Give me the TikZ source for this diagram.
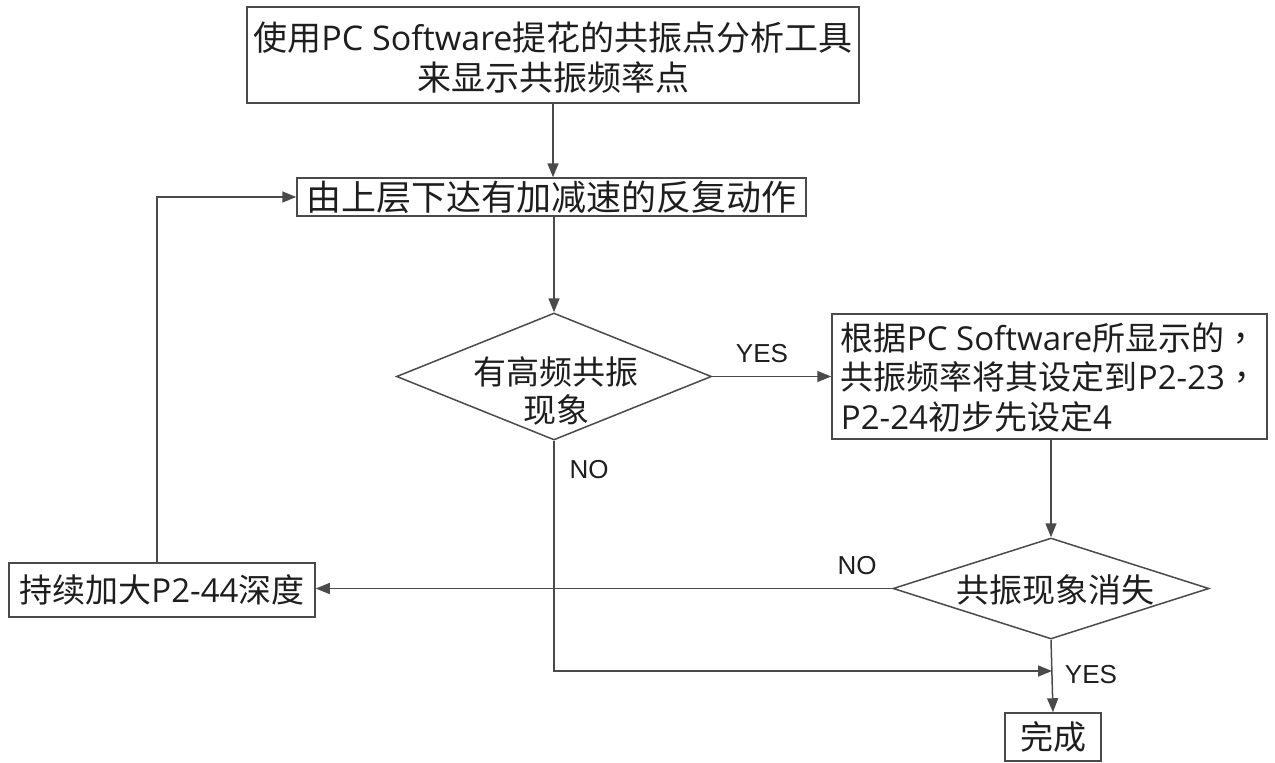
\documentclass[tikz,border=0pt]{standalone}
\usepackage{fontspec}
\setmainfont{Noto Sans CJK SC}
\newfontfamily\latfont{Open Sans}
\newfontfamily\tcfont[Script=CJK,Language=Chinese Traditional]{Noto Sans CJK TC}
\newfontfamily\arialfont{Liberation Sans}
\newcommand\lt[1]{{\latfont #1}}
\newcommand\cm{{\tcfont ，}}
\usetikzlibrary{shapes.geometric,arrows.meta}
\definecolor{ln}{HTML}{4A4A4A}
\definecolor{tx}{HTML}{1E1E1E}
\begin{document}
\begin{tikzpicture}[x=1pt,y=-1pt,
 box/.style={draw=ln,line width=1.5pt,rectangle,inner sep=0pt,text=tx,align=center,font=\fontsize{33}{37.5}\selectfont},
 dia/.style={draw=ln,line width=1.5pt,diamond,inner sep=0pt},
 txt/.style={text=tx,inner sep=0pt,align=center,font=\fontsize{33}{38}\selectfont},
 lbl/.style={text=tx,inner sep=0pt,font=\arialfont\fontsize{26}{28}\selectfont},
 arr/.style={draw=ln,line width=1.5pt,-{Triangle[length=14pt,width=11pt]}}]
\path[use as bounding box] (0,0) rectangle (1275,763);
\fill[white] (0,0) rectangle (1275,763);
\node[box,minimum width=612pt,minimum height=96pt,font=\fontsize{34}{37}\selectfont] (top) at (553,55)
  {\raisebox{-7pt}[\height][\depth]{\begin{tabular}{@{}c@{}}使用\lt{PC Software}提花的共振点分析工具\\来显示共振频率点\end{tabular}}};
\node[box,minimum width=509pt,minimum height=38pt,font=\fontsize{35}{38}\selectfont] (b2) at (551.5,197) {由上层下达有加减速的反复动作};
\node[dia,minimum width=315pt,minimum height=127pt] (d1) at (554,376.5) {};
\node[txt] (d1t) at (556,391) {有高频共振\\现象};
\node[box,minimum width=435pt,minimum height=125pt,font=\fontsize{33}{37.5}\selectfont] (b3) at (1049.5,376.5)
  {\raisebox{-5pt}[\height][\depth]{\begin{tabular}{@{}l@{}}根据\lt{PC Software}所显示的\cm\\共振频率将其设定到\lt{P2-23}\cm\\\lt{P2-24}初步先设定\lt{4}\end{tabular}}};
\node[dia,minimum width=316pt,minimum height=101pt] (d2) at (1051,588.5) {};
\node[txt] (d2t) at (1055,590) {共振现象消失};
\node[box,minimum width=306pt,minimum height=54pt] (b4) at (162,590) {持续加大\lt{P2-44}深度};
\node[box,minimum width=96pt,minimum height=48pt] (done) at (1053,737) {完成};
\node[lbl] (yes1) at (762,354) {YES};
\node[lbl] (no1) at (589,470) {NO};
\node[lbl] (no2) at (857,566) {NO};
\node[lbl] (yes2) at (1091,675) {YES};
\coordinate (jn) at (1052,671);
\draw[arr] (top.south) -- (top.south |- b2.north);
\draw[arr] (d1.north |- b2.south) -- (d1.north);
\draw[arr] (d1.east) -- (b3.west |- d1.east);
\draw[arr] (d2.north |- b3.south) -- (d2.north);
\draw[arr] (d2.west) -- (b4.east |- d2.west);
\draw[arr] ([xshift=-5pt]b4.north) |- (b2.west);
\draw[arr] (d1.south) |- (jn);
\draw[arr] (d2.south) -- (done.north);
\end{tikzpicture}
\end{document}
